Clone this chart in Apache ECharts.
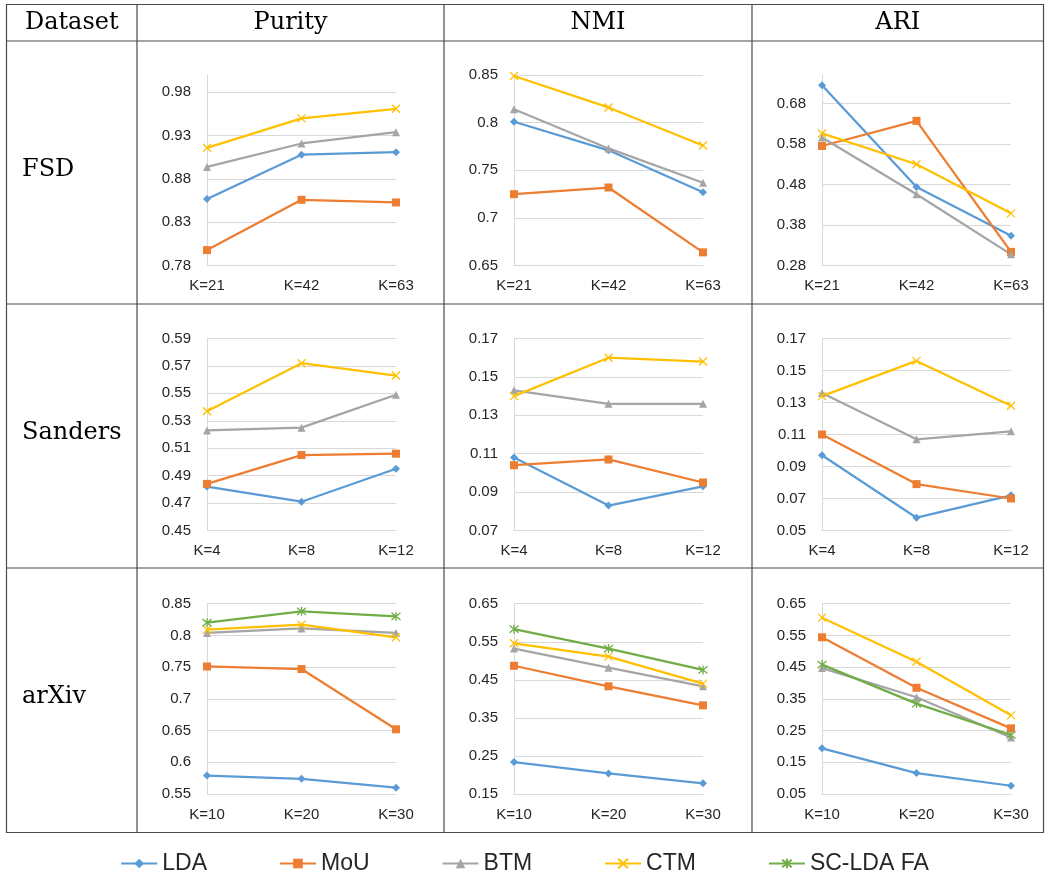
<!DOCTYPE html>
<html>
<head>
<meta charset="utf-8">
<script src="https://cdn.jsdelivr.net/npm/echarts@6/dist/echarts.min.js"></script>
<style>
  html, body { margin: 0; padding: 0; background: #fff; }
  #chart { width: 1049px; height: 878px; }
</style>
</head>
<body>
<div id="chart"></div>
<script>
// ---- data ----
const models = ['LDA', 'MoU', 'BTM', 'CTM', 'SC-LDA FA'];
const metrics = ['Purity', 'NMI', 'ARI'];
const datasets = ['FSD', 'Sanders', 'arXiv'];

const kFSD = ['K=21', 'K=42', 'K=63'];
const kSanders = ['K=4', 'K=8', 'K=12'];
const kArxiv = ['K=10', 'K=20', 'K=30'];

// one row per model, in the order of `models`
const fsdPurity = [[0.857, 0.908, 0.911], [0.798, 0.856, 0.853], [0.894, 0.921, 0.934], [0.916, 0.950, 0.961]];
const fsdNMI = [[0.801, 0.771, 0.727], [0.725, 0.732, 0.664], [0.814, 0.773, 0.737], [0.849, 0.816, 0.776]];
const fsdARI = [[0.725, 0.474, 0.354], [0.575, 0.637, 0.314], [0.596, 0.456, 0.308], [0.606, 0.530, 0.409]];

const sandersPurity = [[0.482, 0.471, 0.495], [0.484, 0.505, 0.506], [0.523, 0.525, 0.549], [0.537, 0.572, 0.563]];
const sandersNMI = [[0.108, 0.083, 0.093], [0.104, 0.107, 0.095], [0.143, 0.136, 0.136], [0.140, 0.160, 0.158]];
const sandersARI = [[0.097, 0.058, 0.072], [0.110, 0.079, 0.070], [0.136, 0.107, 0.112], [0.134, 0.156, 0.128]];

const arxivPurity = [[0.579, 0.574, 0.560], [0.751, 0.747, 0.652], [0.804, 0.811, 0.804], [0.809, 0.817, 0.797], [0.820, 0.838, 0.830]];
const arxivNMI = [[0.234, 0.204, 0.178], [0.487, 0.433, 0.383], [0.532, 0.482, 0.433], [0.546, 0.511, 0.440], [0.583, 0.532, 0.476]];
const arxivARI = [[0.194, 0.116, 0.076], [0.544, 0.385, 0.257], [0.447, 0.355, 0.228], [0.606, 0.467, 0.298], [0.458, 0.335, 0.236]];

// y-axis tick values and upper bounds
const ticksFsdPurity = [0.78, 0.83, 0.88, 0.93, 0.98];
const ticksFsdNMI = [0.65, 0.7, 0.75, 0.8, 0.85];
const ticksFsdARI = [0.28, 0.38, 0.48, 0.58, 0.68];
const ticksSandersPurity = [0.45, 0.47, 0.49, 0.51, 0.53, 0.55, 0.57, 0.59];
const ticksSandersNMI = [0.07, 0.09, 0.11, 0.13, 0.15, 0.17];
const ticksSandersARI = [0.05, 0.07, 0.09, 0.11, 0.13, 0.15, 0.17];
const ticksArxivPurity = [0.55, 0.6, 0.65, 0.7, 0.75, 0.8, 0.85];
const ticksArxivNMI = [0.15, 0.25, 0.35, 0.45, 0.55, 0.65];
const ticksArxivARI = [0.05, 0.15, 0.25, 0.35, 0.45, 0.55, 0.65];
const axisMax = [[1.0, 0.85, 0.75], [0.59, 0.17, 0.17], [0.85, 0.65, 0.65]];

// ---- styling ----
const colors = ['#5B9BD5', '#ED7D31', '#A5A5A5', '#FFC000', '#70AD47'];
const symbols = [
  'diamond',
  'rect',
  'triangle',
  'path://M0,0L10,10M10,0L0,10',
  'path://M1,1L9,9M9,1L1,9M5,0L5,10'
];
const symbolSizes = [8, 8, 8, 8, 9];
const gridColor = '#D9D9D9';
const labelColor = '#262626';
const sansFont = '"Liberation Sans", Arial, sans-serif';
const serifFont = '"DejaVu Serif", "Liberation Serif", serif';

const panels = [
  { row: 0, col: 0, cats: kFSD, data: fsdPurity, ticks: ticksFsdPurity },
  { row: 0, col: 1, cats: kFSD, data: fsdNMI, ticks: ticksFsdNMI },
  { row: 0, col: 2, cats: kFSD, data: fsdARI, ticks: ticksFsdARI },
  { row: 1, col: 0, cats: kSanders, data: sandersPurity, ticks: ticksSandersPurity },
  { row: 1, col: 1, cats: kSanders, data: sandersNMI, ticks: ticksSandersNMI },
  { row: 1, col: 2, cats: kSanders, data: sandersARI, ticks: ticksSandersARI },
  { row: 2, col: 0, cats: kArxiv, data: arxivPurity, ticks: ticksArxivPurity },
  { row: 2, col: 1, cats: kArxiv, data: arxivNMI, ticks: ticksArxivNMI },
  { row: 2, col: 2, cats: kArxiv, data: arxivARI, ticks: ticksArxivARI }
];

// ---- table layout (pixels) ----
const tableLeft = 6.5, tableRight = 1043.5, tableTop = 4.5, tableBottom = 832.5;
const colEdges = [tableLeft, 137, 444, 752, tableRight];
const rowEdges = [tableTop, 41, 304, 568, tableBottom];
const plotLeft = [207, 514, 822];
const plotWidth = 189;
const plotTop = [75, 338.5, 603.7];
const plotHeight = [190.7, 192, 190.3];

const grids = [], xAxes = [], yAxes = [], series = [];

panels.forEach((p, i) => {
  grids.push({
    left: plotLeft[p.col], top: plotTop[p.row],
    width: plotWidth, height: plotHeight[p.row],
    containLabel: false
  });
  xAxes.push({
    type: 'category', gridIndex: i, data: p.cats, boundaryGap: false,
    axisLine: { lineStyle: { color: gridColor, width: 1 } },
    axisTick: { show: false },
    axisLabel: { color: labelColor, fontFamily: sansFont, fontSize: 15, margin: 13 },
    splitLine: { show: false }
  });
  yAxes.push({
    type: 'value', gridIndex: i,
    min: p.ticks[0], max: axisMax[p.row][p.col],
    axisLine: { show: true, lineStyle: { color: gridColor, width: 1 } },
    axisTick: { show: false, customValues: p.ticks },
    axisLabel: {
      color: labelColor, fontFamily: sansFont, fontSize: 15, margin: 16,
      customValues: p.ticks,
      formatter: v => String(+(+v).toFixed(2))
    },
    splitLine: { show: true, lineStyle: { color: gridColor, width: 1 } }
  });
  p.data.forEach((vals, m) => {
    const isStroke = symbols[m].indexOf('path://') === 0;
    series.push({
      type: 'line', name: models[m],
      xAxisIndex: i, yAxisIndex: i,
      data: vals,
      symbol: symbols[m], symbolSize: symbolSizes[m],
      showAllSymbol: true,
      lineStyle: { color: colors[m], width: 2.25 },
      itemStyle: isStroke
        ? { color: colors[m], borderColor: colors[m], borderWidth: 1.3 }
        : { color: colors[m] },
      emphasis: { disabled: true },
      animation: false,
      z: 3
    });
  });
});

// table rules and text
const graphics = [];
const lineStyle = { stroke: '#4a4a4a', lineWidth: 1.2 };
graphics.push({
  type: 'rect', silent: true,
  shape: { x: tableLeft, y: tableTop, width: tableRight - tableLeft, height: tableBottom - tableTop },
  style: { fill: null, stroke: '#4a4a4a', lineWidth: 1.2 }
});
colEdges.slice(1, -1).forEach(x => graphics.push({
  type: 'line', silent: true, shape: { x1: x, y1: tableTop, x2: x, y2: tableBottom }, style: lineStyle
}));
rowEdges.slice(1, -1).forEach(y => graphics.push({
  type: 'line', silent: true, shape: { x1: tableLeft, y1: y, x2: tableRight, y2: y }, style: lineStyle
}));

const headerY = (rowEdges[0] + rowEdges[1]) / 2;
graphics.push({
  type: 'text', silent: true, x: (colEdges[0] + colEdges[1]) / 2, y: headerY,
  style: { text: 'Dataset', font: '24px ' + serifFont, fill: '#000', align: 'center', verticalAlign: 'middle' }
});
metrics.forEach((t, c) => graphics.push({
  type: 'text', silent: true, x: (colEdges[c + 1] + colEdges[c + 2]) / 2, y: headerY,
  style: { text: t, font: '24px ' + serifFont, fill: '#000', align: 'center', verticalAlign: 'middle' }
}));
datasets.forEach((t, r) => graphics.push({
  type: 'text', silent: true, x: 22, y: (rowEdges[r + 1] + rowEdges[r + 2]) / 2 - 3,
  style: { text: t, font: '24px ' + serifFont, fill: '#000', align: 'left', verticalAlign: 'middle' }
}));

const chart = echarts.init(document.getElementById('chart'), null, { renderer: 'canvas' });
chart.setOption({
  animation: false,
  backgroundColor: '#fff',
  grid: grids,
  xAxis: xAxes,
  yAxis: yAxes,
  series: series,
  legend: {
    data: models,
    left: 'center', top: 847,
    itemWidth: 36, itemHeight: 12, itemGap: 72,
    textStyle: { fontFamily: sansFont, fontSize: 23, color: labelColor },
    selectedMode: false
  },
  graphic: graphics
});
</script>
</body>
</html>
